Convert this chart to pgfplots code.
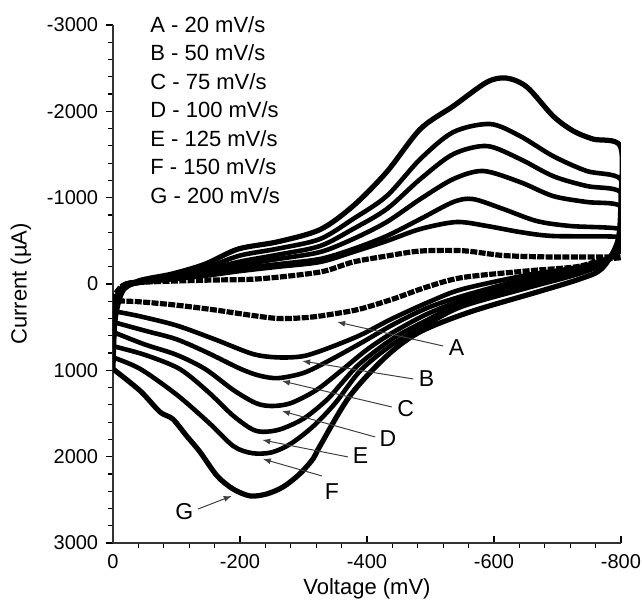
\documentclass[border=0pt]{standalone}
\usepackage{pgfplots}
\pgfplotsset{compat=1.18}
\usepackage{fontspec}
\setmainfont{Liberation Sans}
\usetikzlibrary{arrows.meta}
\begin{document}
\begin{tikzpicture}
\useasboundingbox (-56.5pt,-28.5pt) rectangle (264.5pt,271.5pt);
\begin{axis}[
  name=ax, at={(0,0)}, anchor=south west,
  width=254pt, height=259pt, scale only axis,
  xmin=-800, xmax=0, ymin=-3000, ymax=3000,
  x dir=reverse, y dir=reverse,
  axis x line*=bottom, axis y line*=left,
  xtick={0,-200,-400,-600,-800},
  ytick={-3000,-2000,-1000,0,1000,2000,3000},
  minor x tick num=4, minor y tick num=4,
  xtick align=inside, ytick align=outside,
  major tick length=3.4pt, minor tick length=2.5pt,
  minor x tick style={yshift=-2.5pt},
  every tick/.style={black, line width=0.6pt},
  axis line style={black!80, line width=0.6pt},
  /pgf/number format/assume math mode=true,
  /pgf/number format/1000 sep={},
  ticklabel style={font=\fontsize{10}{12}\selectfont},
  xticklabel style={yshift=-2pt},
  yticklabel style={xshift=-0.5pt},
  xlabel={Voltage (mV)}, ylabel={Current (µA)},
  label style={font=\fontsize{11}{13}\selectfont},
  xlabel style={yshift=1.8pt},
  ylabel style={yshift=1pt},
  clip mode=individual,
  curve/.style={black, line width=2.3pt, smooth, tension=0.5, line join=round, line cap=round},
]
% A - 20 mV/s
\addplot[curve, line width=2.6pt, dash pattern=on 3.5pt off 0.7pt, line cap=butt] coordinates {
(0,195) (-5,100) (-20,0) (-60,-25) (-150,-45) (-230,-60) (-326,-139) (-378,-255) (-431,-324) (-484,-382) (-552,-385) (-615,-330) (-693,-313) (-799,-313) (-800,-305)
(-770,-280) (-730,-200) (-650,-150) (-550,-75) (-494,35) (-441,174) (-389,290) (-353,340) (-310,385) (-263,400) (-220,365) (-160,300) (-100,245) (-40,205) (0,195)};
% B - 50 mV/s
\addplot[curve] coordinates {
(0,313) (-5,150) (-20,0) (-60,-30) (-100,-60) (-150,-100) (-200,-150) (-260,-200) (-326,-255) (-378,-370) (-431,-498) (-484,-637) (-541,-718) (-589,-672) (-641,-602) (-693,-556) (-799,-544) (-800,-450) (-795,-350)
(-770,-270) (-730,-190) (-650,-100) (-550,60) (-500,200) (-440,400) (-390,590) (-340,740) (-300,835) (-260,850) (-220,810) (-160,640) (-100,480) (-40,370) (0,313)};
% C - 75 mV/s
\addplot[curve, dash pattern=on 2pt off 0.4pt] coordinates {
(0,440) (-5,200) (-20,0) (-60,-35) (-100,-70) (-150,-120) (-200,-180) (-260,-230) (-326,-290) (-378,-405) (-431,-556) (-484,-753) (-536,-950) (-567,-984) (-615,-868) (-667,-730) (-720,-672) (-799,-637) (-800,-500) (-795,-380)
(-770,-260) (-730,-170) (-650,-60) (-550,140) (-494,280) (-441,470) (-389,690) (-337,900) (-300,1030) (-260,1090) (-230,1060) (-200,980) (-150,800) (-100,640) (-50,540) (0,440)};
% D - 100 mV/s
\addplot[curve] coordinates {
(0,556) (-5,250) (-20,20) (-60,-35) (-100,-80) (-150,-140) (-200,-220) (-260,-290) (-326,-370) (-378,-521) (-431,-718) (-484,-984) (-536,-1216) (-583,-1309) (-641,-1181) (-693,-1019) (-746,-950) (-799,-903) (-800,-600) (-795,-400)
(-770,-250) (-730,-150) (-650,-20) (-550,190) (-494,350) (-441,560) (-400,760) (-360,1000) (-320,1230) (-280,1380) (-250,1413) (-225,1380) (-190,1230) (-145,984) (-100,820) (-50,700) (0,556)};
% E - 125 mV/s
\addplot[curve, dash pattern=on 2.5pt off 0.4pt] coordinates {
(0,720) (-5,300) (-20,30) (-60,-35) (-100,-90) (-150,-170) (-200,-260) (-260,-340) (-326,-440) (-378,-637) (-431,-868) (-484,-1216) (-536,-1505) (-589,-1598) (-641,-1448) (-693,-1250) (-746,-1135) (-799,-1065) (-800,-700) (-795,-420)
(-770,-240) (-730,-130) (-650,20) (-550,220) (-494,420) (-441,630) (-389,920) (-360,1150) (-337,1340) (-300,1560) (-260,1690) (-225,1700) (-190,1530) (-150,1250) (-105,984) (-50,820) (0,720)};
% F - 150 mV/s
\addplot[curve] coordinates {
(0,850) (-5,350) (-20,40) (-60,-35) (-100,-110) (-150,-200) (-200,-330) (-260,-410) (-326,-521) (-378,-753) (-431,-1019) (-484,-1448) (-536,-1760) (-594,-1853) (-641,-1714) (-693,-1482) (-746,-1309) (-799,-1216) (-800,-800) (-795,-450)
(-770,-230) (-730,-110) (-650,50) (-550,260) (-494,470) (-440,700) (-390,1000) (-350,1380) (-315,1650) (-280,1850) (-250,1950) (-220,1960) (-190,1880) (-150,1600) (-100,1280) (-43,984) (0,850)};
% G - 200 mV/s
\addplot[curve, line width=2.6pt] coordinates {
(0,984) (-3,400) (-12,100) (-40,-35) (-93,-116) (-145,-230) (-197,-405) (-260,-490) (-326,-630) (-378,-903) (-431,-1297) (-484,-1795) (-536,-2061) (-589,-2339) (-620,-2385) (-652,-2281) (-693,-1946) (-725,-1772) (-756,-1679) (-799,-1598) (-800,-1000) (-795,-500)
(-770,-180) (-735,-58) (-668,93) (-562,324) (-483,556) (-431,834) (-373,1297) (-326,1876) (-315,2026) (-294,2200) (-268,2350) (-242,2432) (-216,2455) (-189,2374) (-164,2223) (-137,1945) (-116,1760) (-94,1563) (-74,1482) (-43,1239) (0,984)};
% annotations
\tikzset{lab/.style={font=\fontsize{11.5}{13}\selectfont, inner sep=1pt}, arr/.style={black!75, line width=0.5pt, -{Latex[length=4pt,width=3pt]}}}
\draw[arr] (axis cs:-520,718) -- (axis cs:-353,440);
\node[lab, anchor=west] at (axis cs:-525,740) {A};
\draw[arr] (axis cs:-473,1100) -- (axis cs:-298,892);
\node[lab, anchor=west] at (axis cs:-478,1090) {B};
\draw[arr] (axis cs:-439,1424) -- (axis cs:-266,1123);
\node[lab, anchor=west] at (axis cs:-444,1440) {C};
\draw[arr] (axis cs:-413,1772) -- (axis cs:-266,1471);
\node[lab, anchor=west] at (axis cs:-416,1790) {D};
\draw[arr] (axis cs:-370,2003) -- (axis cs:-235,1806);
\node[lab, anchor=west] at (axis cs:-374,1990) {E};
\draw[arr] (axis cs:-329,2223) -- (axis cs:-236,2027);
\node[lab, anchor=west] at (axis cs:-330,2400) {F};
\draw[arr] (axis cs:-134,2606) -- (axis cs:-187,2455);
\node[lab, anchor=east] at (axis cs:-130,2640) {G};
\end{axis}
\foreach \t [count=\i from 0] in {A - 20 mV/s, B - 50 mV/s, C - 75 mV/s, D - 100 mV/s, E - 125 mV/s, F - 150 mV/s, G - 200 mV/s}
  \node[anchor=base west, inner sep=0pt, font=\fontsize{11}{13}\selectfont] at ([xshift=18.5pt, yshift={-3.5pt-\i*14.25pt}]ax.north west) {\t};
\end{tikzpicture}
\end{document}
